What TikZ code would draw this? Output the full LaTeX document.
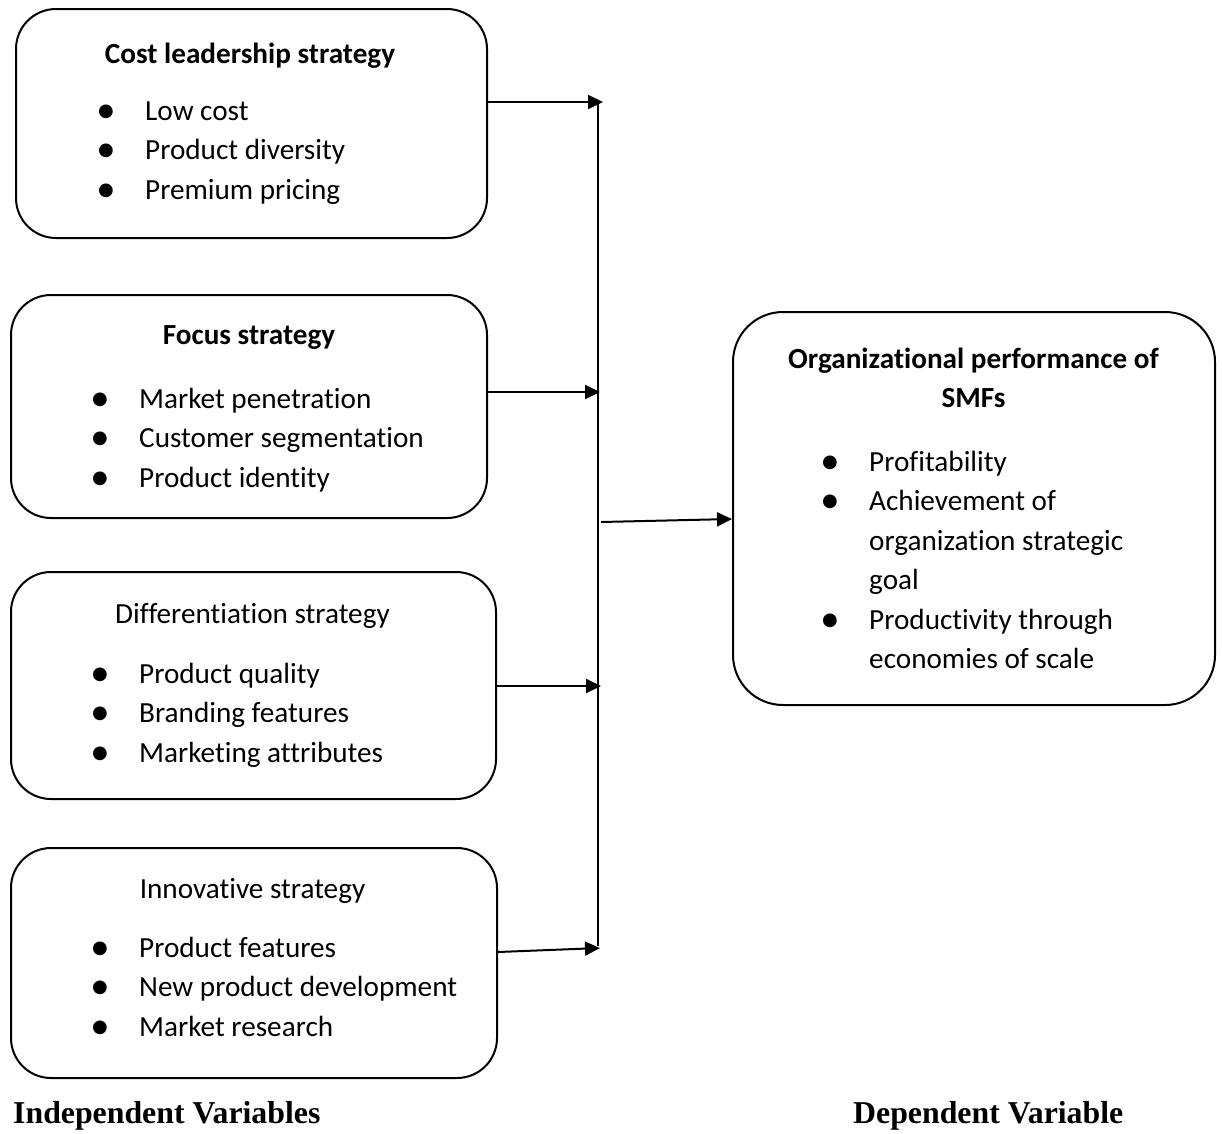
\documentclass[tikz,border=0pt]{standalone}
\usepackage{fontspec}
\setmainfont{Carlito}[Ligatures=NoCommon]
\newfontfamily\timesfont{Liberation Serif}
\newfontfamily\dotfont{DejaVu Sans}
\usetikzlibrary{arrows.meta, positioning}

\newcommand{\dotitem}{\raisebox{4pt}{\dotfont\fontsize{18}{18}\selectfont ●}}

\begin{document}
\begin{tikzpicture}[x = 1pt, y = -1pt, > = {Triangle[length=15pt, width=14pt]},
    box/.style = {draw, line width=2pt, rounded corners=40pt, inner sep=0pt},
    head/.style = {anchor=base, inner sep=0pt, font=\fontsize{29.2}{39.5}\selectfont},
    items/.style = {anchor=base west, inner sep=0pt, font=\fontsize{29.2}{39.5}\selectfont},
    arr/.style = {->, line width=2pt},
    caption/.style = {anchor=base west, inner sep=0pt, font=\timesfont\bfseries\fontsize{31.8}{36}\selectfont}]
    \useasboundingbox (0,0) rectangle (1222,1133);

    % independent variables
    \node[box, minimum width=471pt, minimum height=229pt]	(cost)	at (251.5,123.5)	{};
    \node[box, minimum width=476pt, minimum height=223pt]	(focus)	at (249,406.5)		{};
    \node[box, minimum width=485pt, minimum height=227pt]	(diff)	at (253.5,685.5)	{};
    \node[box, minimum width=486pt, minimum height=230pt]	(innov)	at (254,963)		{};
    % dependent variable
    \node[box, rounded corners=50pt, minimum width=482pt, minimum height=393pt]	(perf)	at (974,508.5)	{};

    \node[head]	(costT)		at (250,63)		{\bfseries Cost leadership strategy};
    \node[head]	(focusT)	at (249,344)	{\bfseries Focus strategy};
    \node[head]	(diffT)		at (252.5,623)	{Differentiation strategy};
    \node[head]	(innovT)	at (252.5,898)	{Innovative strategy};
    \node[head]	(perfT)		at (973.5,368)	{\bfseries\begin{tabular}[t]{@{}c@{}}Organizational performance of\\SMFs\end{tabular}};

    \node[items]	(costL)		at (98,120)		{\begin{tabular}[t]{@{}p{47pt}@{}l@{}}
        \dotitem & Low cost\\ \dotitem & Product diversity\\ \dotitem & Premium pricing\end{tabular}};
    \node[items]	(focusL)	at (92,408)		{\begin{tabular}[t]{@{}p{47pt}@{}l@{}}
        \dotitem & Market penetration\\ \dotitem & Customer segmentation\\ \dotitem & Product identity\end{tabular}};
    \node[items]	(diffL)		at (92,683)		{\begin{tabular}[t]{@{}p{47pt}@{}l@{}}
        \dotitem & Product quality\\ \dotitem & Branding features\\ \dotitem & Marketing attributes\end{tabular}};
    \node[items]	(innovL)	at (92,957)		{\begin{tabular}[t]{@{}p{47pt}@{}l@{}}
        \dotitem & Product features\\ \dotitem & New product development\\ \dotitem & Market research\end{tabular}};
    \node[items]	(perfL)		at (822,471)	{\begin{tabular}[t]{@{}p{47pt}@{}l@{}}
        \dotitem & Profitability\\ \dotitem & Achievement of\\ & organization strategic\\ & goal\\
        \dotitem & Productivity through\\ & economies of scale\end{tabular}};

    % collecting line
    \coordinate (top)	at (598,103);
    \coordinate (bot)	at (598,946);
    \coordinate (b1)	at (603,102);
    \coordinate (b2)	at (600,392);
    \coordinate (b3)	at (601,686);
    \coordinate (b4)	at (600,948);
    \coordinate (mid)	at (601,522);
    \draw[line width=1.2pt]	(top) -- (bot);
    \draw[arr]	(cost.east |- b1)			-- (b1);
    \draw[arr]	(focus.east |- b2)			-- (b2);
    \draw[arr]	(diff.east |- b3)			-- (b3);
    \draw[arr]	([yshift=11pt]innov.east)	-- (b4);
    \draw[arr]	(mid)	-- ([yshift=-10.5pt]perf.west);

    \node[caption]	(indep)	at (13,1123)	{Independent Variables};
    \node[caption]	(dep)	at (853,1123)	{Dependent Variable};
\end{tikzpicture}
\end{document}
